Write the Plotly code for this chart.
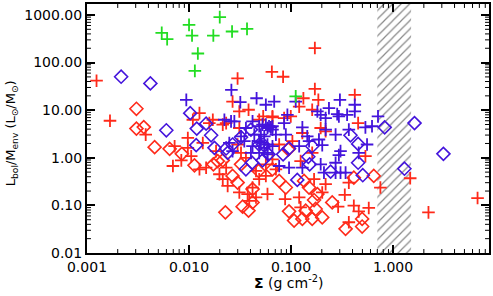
import numpy as np
import plotly.graph_objects as go

# ---------------- data ----------------
green_x = [0.0054, 0.0061, 0.0100, 0.0107, 0.020, 0.0173, 0.0264, 0.037, 0.0122, 0.0114, 0.111]
green_y = [420, 310, 620, 370, 900, 370, 450, 510, 155, 67, 19.5]

blue_dia_x = [0.00216, 0.00418, 0.01027, 0.00599, 0.0119, 0.0147, 0.01175, 0.01647, 0.01774, 0.0231,
              0.0239, 0.0267, 0.0323, 0.0361, 0.0414, 0.0525, 0.060, 0.0404, 0.0487, 0.382,
              0.454, 0.454, 0.504, 0.244, 0.152, 0.1475, 0.115, 0.0955, 0.0835, 0.0533,
              0.161, 0.826, 1.62, 3.11, 1.29]
blue_dia_y = [50.4, 36.5, 8.66, 3.78, 4.10, 5.21, 1.84, 2.97, 1.62, 1.57,
              1.27, 1.90, 2.70, 0.573, 0.787, 0.883, 1.18, 3.91, 1.90, 2.97,
              1.96, 0.787, 0.43, 0.511, 0.729, 1.05, 0.343, 1.57, 1.18, 1.90,
              1.75, 4.36, 5.36, 1.21, 0.59]

red_dia_x = [0.00305, 0.00305, 0.0036, 0.0046, 0.00645, 0.0085, 0.0113, 0.0173, 0.0191, 0.0214,
             0.0227, 0.0267, 0.0299, 0.0335, 0.0383, 0.0419, 0.0419, 0.0323, 0.048, 0.0657,
             0.0764, 0.0888, 0.134, 0.150, 0.168, 0.181, 0.0955, 0.107, 0.129, 0.139,
             0.161, 0.174, 0.202, 0.253, 0.342, 0.497, 0.497, 0.412, 0.646, 0.094]
red_dia_y = [10.7, 4.10, 4.42, 1.67, 1.54, 1.21, 0.695, 0.729, 0.853, 0.883,
             0.0714, 0.416, 0.301, 0.094, 0.0776, 0.1155, 0.22, 0.729, 0.529, 0.573,
             0.327, 0.237, 0.327, 0.237, 0.1295, 0.173, 0.075, 0.048, 0.052, 0.0776,
             0.052, 0.084, 0.056, 0.1155, 0.0322, 0.052, 0.036, 0.383, 0.416, 1.50]

red_plus_x = [0.00124, 0.00168, 0.0299, 0.0648, 0.0267, 0.0311, 0.0383, 0.0487, 0.0657, 0.01265,
              0.0109, 0.0171, 0.0231, 0.171, 0.0835, 0.171, 0.185, 0.132, 0.120, 0.421,
              0.161, 0.0993, 0.0855, 0.0657, 0.0533, 0.454, 0.195, 0.00376, 0.00722, 0.00973,
              0.00973, 0.01364, 0.00695, 0.0084, 0.01265, 0.0147, 0.01985, 0.0214, 0.0239, 0.0311,
              0.0375, 0.0453, 0.0587, 0.0487, 0.0566, 0.071, 0.0231, 0.0361, 0.0323, 0.0184,
              0.0105, 0.0158, 0.0214, 0.0311, 0.0299, 0.0453, 0.0419, 0.0389, 0.0874, 0.120,
              0.202, 0.218, 0.168, 0.368, 0.412, 0.460, 0.577, 0.368, 0.289, 0.336,
              0.124, 0.129, 0.218, 0.103, 0.0764, 0.0657, 0.0566, 0.161, 0.124, 0.535,
              0.750, 1.47, 2.22, 6.72]
red_plus_y = [41.6, 6.0, 46.4, 64, 15.2, 9.4, 10.2, 6.3, 7.4, 8.66,
              6.3, 6.3, 5.36, 202, 50.4, 27.9, 16.5, 17.8, 11.9, 20.9,
              10.2, 7.4, 6.8, 7.05, 7.4, 5.36, 4.22, 3.07, 1.75, 2.61,
              1.62, 2.05, 0.672, 0.883, 0.573, 0.619, 0.451, 0.355, 0.257, 0.187,
              0.173, 0.147, 0.173, 0.355, 0.416, 0.573, 0.619, 1.0, 1.27, 1.38,
              1.08, 5.36, 4.97, 4.22, 1.90, 0.529, 0.237, 0.125, 0.136, 0.147,
              0.187, 0.279, 0.355, 0.301, 0.0986, 0.075, 0.0883, 0.0443, 0.094, 0.167,
              0.091, 3.32, 3.6, 2.23, 1.90, 0.926, 0.729, 1.27, 0.853, 1.08,
              0.237, 0.372, 0.0714, 0.1426]

blue_plus_x = [0.026, 0.0094, 0.0318, 0.0459, 0.0566, 0.0683, 0.0222, 0.0278, 0.0419, 0.0566,
               0.0657, 0.111, 0.301, 0.421, 0.421, 0.181, 0.195, 0.218, 0.235, 0.283,
               0.354, 0.092, 0.0525, 0.0634, 0.129, 0.218, 0.368, 0.535, 0.621, 0.711,
               0.294, 0.0608, 0.0855, 0.273, 0.0506, 0.071, 0.144, 0.1875, 0.202, 0.460,
               0.555, 0.294, 0.273, 0.195, 0.129, 0.21, 0.273, 0.342, 0.0955, 0.0764,
               0.0587, 0.0506, 0.120, 0.150, 0.0888, 0.0258, 0.0323, 0.0436, 0.0546, 0.0657,
               0.0248, 0.0348, 0.0487, 0.0587, 0.0419, 0.0546, 0.0657, 0.0404, 0.0487, 0.0587,
               0.0267, 0.0361, 0.0487, 0.0587, 0.305, 0.305]
blue_plus_y = [26.6, 16.5, 14.7, 17.8, 13.0, 15.2, 6.3, 5.82, 5.82, 4.97,
               4.6, 15.2, 16.5, 13.0, 9.4, 9.4, 8.0, 6.8, 11.0, 8.25,
               8.0, 8.0, 4.97, 4.36, 4.36, 3.91, 3.91, 4.36, 4.6, 7.4,
               7.4, 4.6, 5.36, 3.07, 3.07, 3.07, 2.83, 2.42, 1.84, 1.27,
               1.90, 1.14, 0.787, 0.729, 0.619, 0.487, 0.487, 0.487, 0.619, 0.672,
               1.18, 2.05, 1.75, 2.23, 3.07, 5.82, 2.83, 3.07, 2.83, 3.91,
               2.05, 2.23, 2.23, 1.90, 1.75, 1.62, 1.75, 1.27, 1.27, 1.27,
               1.38, 4.22, 4.6, 4.22, 1.38, 0.487]

hatch_x = [0.7, 1.5]
x_range = [0.001, 8.7]
y_range = [0.01, 1700]

x_tickvals = [0.001, 0.01, 0.1, 1.0]
x_ticktext = ["0.001", "0.010", "0.100", "1.000"]
y_tickvals = [0.01, 0.1, 1, 10, 100, 1000]
y_ticktext = ["0.01", "0.10", "1.00", "10.00", "100.00", "1000.00"]

RED = "#ff2a1a"
BLUE = "#4414dc"
GREEN = "#22dd22"
FONT = "DejaVu Sans"

W, H = 493, 296
ML, MR, MT, MB = 87, 2, 2, 43
PW, PH = W - ML - MR, H - MT - MB


def minor_vals(lo_exp, hi_exp, lo, hi):
    v = [k * 10.0 ** e for e in range(lo_exp, hi_exp + 1) for k in range(2, 10)]
    return [t for t in v if lo < t < hi]


fig = go.Figure()

# hatched region
fig.add_trace(go.Scatter(
    x=[hatch_x[0], hatch_x[1], hatch_x[1], hatch_x[0], hatch_x[0]],
    y=[y_range[0], y_range[0], y_range[1], y_range[1], y_range[0]],
    mode="lines", fill="toself", line=dict(width=0, color="rgba(0,0,0,0)"),
    fillcolor="rgba(0,0,0,0)",
    fillpattern=dict(shape="/", size=6, solidity=0.2, fgcolor="#111111", bgcolor="rgba(0,0,0,0)"),
    hoverinfo="skip", showlegend=False))


def pts(x, y, color, symbol, size, lw):
    return go.Scatter(x=x, y=y, mode="markers", showlegend=False,
                      marker=dict(symbol=symbol, size=size, color=color,
                                  line=dict(width=lw, color=color)))


fig.add_trace(pts(red_plus_x, red_plus_y, RED, "cross-thin", 9, 1.8))
fig.add_trace(pts(red_dia_x, red_dia_y, RED, "diamond-open", 10, 1.6))
fig.add_trace(pts(blue_plus_x, blue_plus_y, BLUE, "cross-thin", 9, 1.8))
fig.add_trace(pts(blue_dia_x, blue_dia_y, BLUE, "diamond-open", 10, 1.6))
fig.add_trace(pts(green_x, green_y, GREEN, "cross-thin", 9, 1.8))

axis_common = dict(type="log", showgrid=False, zeroline=False, showline=True,
                   linecolor="black", linewidth=2, mirror="ticks",
                   ticks="inside", ticklen=8, tickwidth=1.5, tickcolor="black",
                   tickfont=dict(family=FONT, size=14, color="black"))

fig.update_xaxes(range=[np.log10(x_range[0]), np.log10(x_range[1])],
                 tickmode="array", tickvals=x_tickvals, ticktext=x_ticktext, **axis_common)
fig.update_yaxes(range=[np.log10(y_range[0]), np.log10(y_range[1])],
                 tickmode="array", tickvals=y_tickvals, ticktext=y_ticktext, **axis_common)

# minor ticks on all four sides
MINLEN = 4
tick_line = dict(color="black", width=1)
for xv in minor_vals(-3, 1, x_range[0], x_range[1]):
    fig.add_shape(type="line", xref="x", yref="paper", x0=xv, x1=xv,
                  y0=0, y1=MINLEN / PH, line=tick_line, layer="above")
    fig.add_shape(type="line", xref="x", yref="paper", x0=xv, x1=xv,
                  y0=1, y1=1 - MINLEN / PH, line=tick_line, layer="above")
for yv in minor_vals(-2, 3, y_range[0], y_range[1]):
    fig.add_shape(type="line", xref="paper", yref="y", y0=yv, y1=yv,
                  x0=0, x1=MINLEN / PW, line=tick_line, layer="above")
    fig.add_shape(type="line", xref="paper", yref="y", y0=yv, y1=yv,
                  x0=1, x1=1 - MINLEN / PW, line=tick_line, layer="above")

fig.add_annotation(text="L<sub>bol</sub>/M<sub>env</sub> (L<sub>⊙</sub>/M<sub>⊙</sub>)",
                   xref="paper", yref="paper", x=-0.186, y=0.482, textangle=-90,
                   showarrow=False, xanchor="center", yanchor="middle",
                   font=dict(family=FONT, size=13, color="black"))
fig.add_annotation(text="<b>Σ</b> (g cm<sup>-2</sup>)",
                   xref="paper", yref="paper", x=0.5, y=-0.115,
                   showarrow=False, xanchor="center", yanchor="middle",
                   font=dict(family=FONT, size=14, color="black"))

fig.update_layout(width=W, height=H, margin=dict(l=ML, r=MR, t=MT, b=MB),
                  paper_bgcolor="white", plot_bgcolor="white",
                  font=dict(family=FONT, size=14, color="black"))

fig.write_html("out.html", config={"displayModeBar": False})

# remove default browser body margin so the figure fills the window exactly
with open("out.html", "r", encoding="utf-8") as f:
    html = f.read()
html = html.replace("<head>", "<head><style>html,body{margin:0;padding:0;overflow:hidden;}</style>", 1)
with open("out.html", "w", encoding="utf-8") as f:
    f.write(html)
